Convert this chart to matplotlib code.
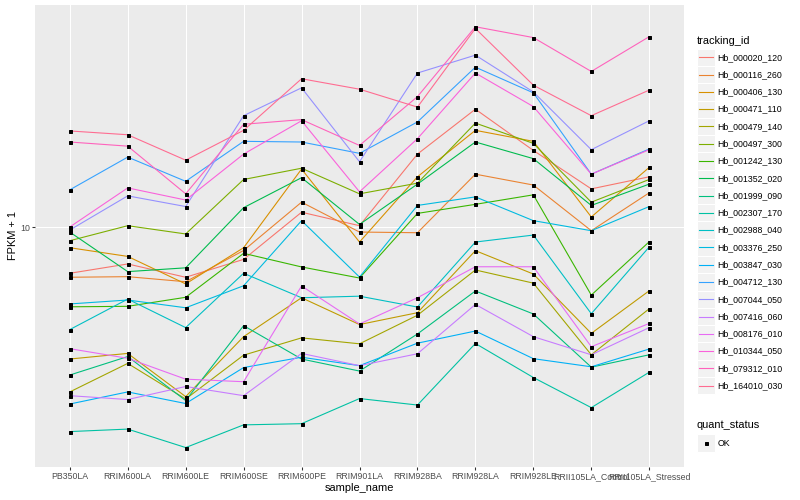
import matplotlib
matplotlib.use("Agg")
import matplotlib.pyplot as plt
from matplotlib.patches import Rectangle
from matplotlib.lines import Line2D
from matplotlib.ticker import NullLocator, FixedLocator

plt.rcParams['font.family'] = ['Liberation Sans', 'DejaVu Sans']

samples = ["PB350LA", "RRIM600LA", "RRIM600LE", "RRIM600SE", "RRIM600PE",
           "RRIM901LA", "RRIM928BA", "RRIM928LA", "RRIM928LE",
           "RRII105LA_Control", "RRII105LA_Stressed"]

ids = ["Hb_000020_120", "Hb_000116_260", "Hb_000406_130", "Hb_000471_110",
       "Hb_000479_140", "Hb_000497_300", "Hb_001242_130", "Hb_001352_020",
       "Hb_001999_090", "Hb_002307_170", "Hb_002988_040", "Hb_003376_250",
       "Hb_003847_030", "Hb_004712_130", "Hb_007044_050", "Hb_007416_060",
       "Hb_008176_010", "Hb_010344_050", "Hb_079312_010", "Hb_164010_030"]

colors = ["#F8766D", "#EA8331", "#D89000", "#C09B00", "#A3A500", "#7CAE00",
          "#39B600", "#00BB4E", "#00BF7D", "#00C1A3", "#00BFC4", "#00BAE0",
          "#00B0F6", "#35A2FF", "#9590FF", "#C77CFF", "#E76BF3", "#FA62DB",
          "#FF62BC", "#FF6C91"]

hb_000020_120 = [7.01, 7.53, 6.80, 7.80, 11.2, 10.1, 17.5, 24.7, 18.0, 13.4, 14.7]
hb_000116_260 = [6.80, 6.83, 6.57, 8.35, 12.1, 9.62, 9.57, 15.0, 13.8, 9.72, 13.0]
hb_000406_130 = [8.53, 7.98, 6.46, 8.53, 15.6, 8.91, 14.7, 21.0, 19.3, 10.8, 15.8]
hb_000471_110 = [3.63, 3.79, 2.72, 4.31, 5.81, 4.73, 5.18, 8.34, 6.97, 4.42, 6.13]
hb_000479_140 = [2.82, 3.51, 2.67, 3.74, 4.27, 4.08, 5.08, 7.19, 6.50, 3.75, 5.34]
hb_000497_300 = [9.00, 10.1, 9.48, 14.4, 15.7, 12.9, 14.0, 22.2, 19.0, 12.1, 14.4]
hb_001242_130 = [5.42, 5.44, 5.83, 8.17, 7.36, 6.76, 11.1, 11.9, 12.8, 5.93, 8.93]
hb_001352_020 = [9.62, 7.10, 7.31, 11.6, 14.6, 10.2, 13.9, 19.2, 16.9, 11.8, 13.9]
hb_001999_090 = [3.21, 3.70, 2.64, 4.69, 3.63, 3.31, 4.40, 6.12, 5.13, 3.41, 3.75]
hb_002307_170 = [2.08, 2.12, 1.84, 2.19, 2.21, 2.68, 2.55, 4.09, 3.15, 2.50, 3.28]
hb_002988_040 = [4.55, 5.75, 4.62, 7.01, 5.81, 5.88, 5.41, 8.91, 9.40, 5.14, 8.58]
hb_003376_250 = [5.54, 5.71, 5.38, 6.37, 10.5, 6.81, 11.8, 12.6, 10.5, 9.72, 11.7]
hb_003847_030 = [2.57, 2.82, 2.58, 3.40, 3.68, 3.45, 4.10, 4.50, 3.64, 3.42, 3.92]
hb_004712_130 = [13.3, 17.1, 14.2, 19.3, 19.2, 17.6, 22.4, 34.1, 28.0, 15.0, 18.2]
hb_007044_050 = [9.77, 12.7, 11.7, 23.5, 29.1, 16.5, 32.6, 37.4, 28.2, 18.1, 22.6]
hb_007416_060 = [2.74, 2.66, 2.94, 2.74, 3.79, 3.45, 3.78, 5.52, 4.31, 3.75, 4.62]
hb_008176_010 = [3.93, 3.65, 3.11, 3.05, 6.36, 4.75, 5.81, 7.37, 7.37, 3.99, 4.77]
hb_010344_050 = [10.0, 13.5, 12.3, 17.5, 22.6, 13.1, 19.7, 32.6, 25.2, 15.0, 18.1]
hb_079312_010 = [19.2, 18.6, 12.9, 22.0, 22.8, 18.7, 27.2, 46.5, 42.8, 33.0, 43.1]
hb_164010_030 = [20.9, 20.3, 16.7, 21.0, 31.2, 28.8, 25.1, 45.9, 29.7, 23.5, 28.6]

series = [hb_000020_120, hb_000116_260, hb_000406_130, hb_000471_110,
          hb_000479_140, hb_000497_300, hb_001242_130, hb_001352_020,
          hb_001999_090, hb_002307_170, hb_002988_040, hb_003376_250,
          hb_003847_030, hb_004712_130, hb_007044_050, hb_007416_060,
          hb_008176_010, hb_010344_050, hb_079312_010, hb_164010_030]

y_ticks = [10]
W, H = 800, 500
fig = plt.figure(figsize=(W / 72, H / 72), dpi=72)
fig.patch.set_facecolor('white')

px_l, px_r, px_t, px_b = 35, 684, 5, 467
ax = fig.add_axes([px_l / W, 1 - px_b / H, (px_r - px_l) / W, (px_b - px_t) / H])
ax.set_facecolor('#EBEBEB')
for s in ax.spines.values():
    s.set_visible(False)
ax.set_yscale('log')
ax.set_xlim(-0.6, len(samples) - 1 + 0.6)
ax.set_ylim(10 ** 0.2, 10 ** 1.74)
ax.set_xticks(range(len(samples)))
ax.set_xticklabels(samples, fontsize=8.8, color='#4D4D4D')
ax.yaxis.set_major_locator(FixedLocator(y_ticks))
ax.set_yticklabels([str(t) for t in y_ticks], fontsize=8.8, color='#4D4D4D')
ax.yaxis.set_minor_locator(NullLocator())
ax.grid(True, which='major', color='white', lw=1.07)
ax.set_axisbelow(True)
ax.tick_params(length=2.75, width=1.07, color='#333333', pad=2.2)
ax.set_xlabel('sample_name', fontsize=11, color='black', labelpad=2.5)
ax.set_ylabel('FPKM + 1', fontsize=11, color='black', labelpad=2.5)

xs = list(range(len(samples)))
for vals, c in zip(series, colors):
    ax.plot(xs, vals, color=c, lw=1.1, zorder=2, solid_capstyle='butt')
for vals in series:
    ax.plot(xs, vals, ls='none', marker='s', ms=3.0, color='black', zorder=3)

# legend
lax = fig.add_axes([0, 0, 1, 1])
lax.set_xlim(0, W)
lax.set_ylim(H, 0)
lax.axis('off')
key = 17.28
kx = 697.3
lax.text(kx - 0.5, 40.5, 'tracking_id', fontsize=11, va='center', ha='left')
y0 = 57.3
for i, (name, c) in enumerate(zip(ids, colors)):
    yc = y0 + key * i
    lax.add_patch(Rectangle((kx, yc - key / 2), key, key, fc='#F2F2F2', ec='white', lw=1, zorder=1))
    lax.add_line(Line2D([kx + 1.7, kx + key - 1.7], [yc, yc], color=c, lw=1.1, zorder=2))
    lax.text(kx + key + 2.6, yc, name, fontsize=8.8, va='center', ha='left')

lax.text(kx - 0.5, 425, 'quant_status', fontsize=11, va='center', ha='left')
yc = 443
lax.add_patch(Rectangle((kx, yc - key / 2), key, key, fc='#F2F2F2', ec='white', lw=1, zorder=1))
lax.plot([kx + key / 2], [yc], marker='s', ms=3.0, color='black', ls='none', zorder=2)
lax.text(kx + key + 2.6, yc, 'OK', fontsize=8.8, va='center', ha='left')

fig.savefig('out.png', dpi=72)
